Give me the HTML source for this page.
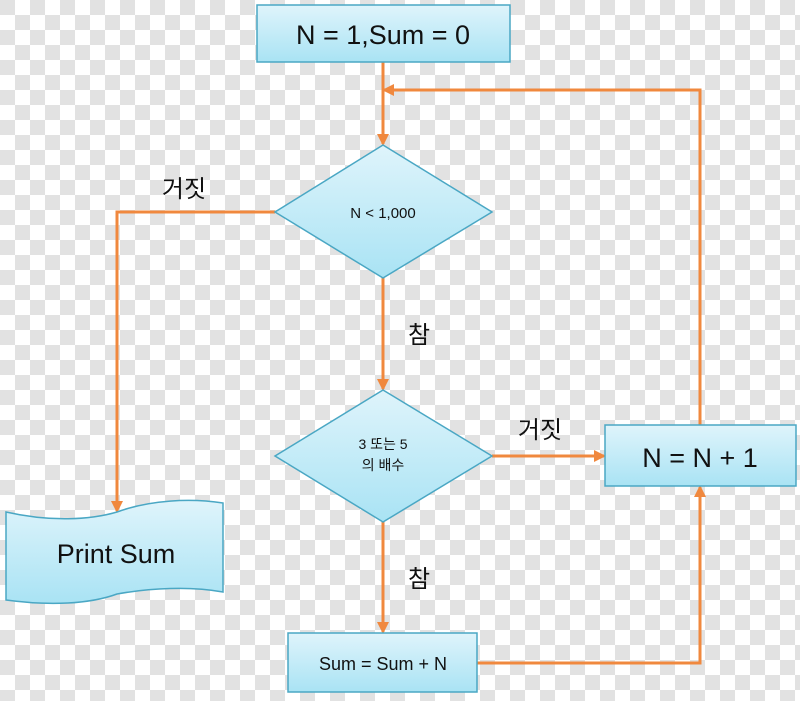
<!DOCTYPE html>
<html><head><meta charset="utf-8"><style>
html,body{margin:0;padding:0}
body{width:800px;height:701px;overflow:hidden;background-color:#fff;
background-image:conic-gradient(#fff 0 25%,#e2e2e2 0 50%,#fff 0 75%,#e2e2e2 0);background-size:30px 30px;}
svg{position:absolute;left:0;top:0}
text{font-family:"Liberation Sans","Noto Sans CJK KR",sans-serif;fill:#111}
</style></head><body>
<svg width="800" height="701" viewBox="0 0 800 701">
<defs>
<linearGradient id="g" x1="0" y1="0" x2="0" y2="1"><stop offset="0" stop-color="#dff4fb"/><stop offset="1" stop-color="#a9e3f4"/></linearGradient>
<marker id="a" markerWidth="12" markerHeight="12" refX="10" refY="6" orient="auto" markerUnits="userSpaceOnUse" viewBox="0 0 12 12"><path d="M0,0 L12,6 L0,12 Z" fill="#f0883e"/></marker>
</defs>
<g stroke="#f0883e" stroke-width="3" fill="none">
<path d="M383,62 V144" marker-end="url(#a)"/>
<path d="M700,425 V90 H384" marker-end="url(#a)"/>
<path d="M275,212 H117 V511" marker-end="url(#a)"/>
<path d="M383,278 V389" marker-end="url(#a)"/>
<path d="M492,456 H604" marker-end="url(#a)"/>
<path d="M383,522 V632" marker-end="url(#a)"/>
<path d="M477,663 H700 V487" marker-end="url(#a)"/>
</g>
<g fill="url(#g)" stroke="#4aa7c4" stroke-width="1.5">
<rect x="257" y="5" width="253" height="57"/>
<polygon points="383,145 492,212 383,278 275,212"/>
<polygon points="383,390 492,456 383,522 275,456"/>
<rect x="605" y="425" width="191" height="61"/>
<rect x="288" y="633" width="189" height="59"/>
<path d="M6,512 C50,522 90,520 117,512 C150,500 190,498 223,503 V592 C190,586 150,588 117,594 C90,604 50,606 6,600 Z"/>
</g>
<text x="383" y="44" font-size="27" text-anchor="middle">N = 1,Sum = 0</text>
<text x="383" y="218" font-size="15" text-anchor="middle">N &lt; 1,000</text>
<text x="383" y="449" font-size="14" text-anchor="middle">3 또는 5</text>
<text x="383" y="470" font-size="14" text-anchor="middle">의 배수</text>
<text x="700" y="467" font-size="27" text-anchor="middle">N = N + 1</text>
<text x="383" y="670" font-size="18" text-anchor="middle">Sum = Sum + N</text>
<text x="116" y="563" font-size="27" text-anchor="middle">Print Sum</text>
<text x="184" y="197" font-size="24" text-anchor="middle">거짓</text>
<text x="419" y="343" font-size="24" text-anchor="middle">참</text>
<text x="540" y="438" font-size="24" text-anchor="middle">거짓</text>
<text x="419" y="587" font-size="24" text-anchor="middle">참</text>
</svg>
</body></html>
